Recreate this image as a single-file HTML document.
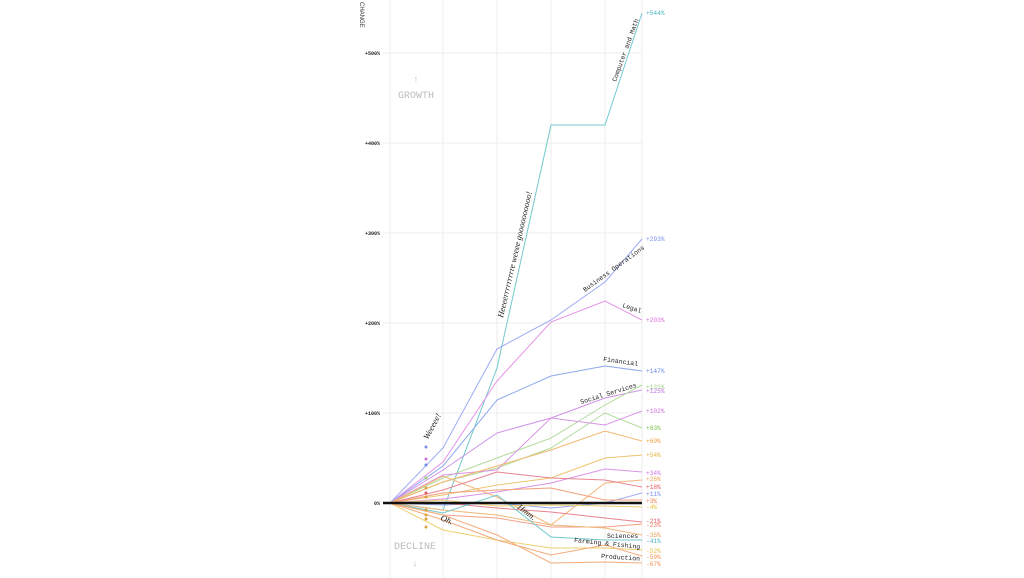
<!DOCTYPE html>
<html><head><meta charset="utf-8"><style>
html,body{margin:0;padding:0;background:#fff;width:1024px;height:578px;overflow:hidden}
svg{display:block}
text{font-family:"Liberation Mono",monospace}
</style></head><body>
<svg width="1024" height="578" viewBox="0 0 1024 578">
<g stroke="#eee" stroke-width="1">
<line x1="390" y1="0" x2="390" y2="578"/><line x1="443" y1="0" x2="443" y2="578"/><line x1="497" y1="0" x2="497" y2="578"/><line x1="551" y1="0" x2="551" y2="578"/><line x1="605" y1="0" x2="605" y2="578"/><line x1="642" y1="0" x2="642" y2="578"/>
<line x1="383" y1="53" x2="642" y2="53"/><line x1="383" y1="143" x2="642" y2="143"/><line x1="383" y1="233" x2="642" y2="233"/><line x1="383" y1="323" x2="642" y2="323"/><line x1="383" y1="413" x2="642" y2="413"/>
</g>
<text x="360" y="2" font-size="6" transform="rotate(90 360 2)" fill="#333" style="font-family:'Liberation Sans'">CHANGE</text>
<g font-size="5" fill="#222" text-anchor="end" font-weight="bold">
<text x="380" y="55">+500%</text><text x="380" y="145">+400%</text><text x="380" y="235">+300%</text><text x="380" y="325">+200%</text><text x="380" y="415">+100%</text><text x="380" y="505">0%</text>
</g>
<text x="416" y="98" font-size="10" fill="#bbb" text-anchor="middle">GROWTH</text>
<text x="416" y="82" font-size="9" fill="#bbb" text-anchor="middle">↑</text>
<text x="415" y="549" font-size="10" fill="#bbb" text-anchor="middle">DECLINE</text>
<text x="415" y="566" font-size="9" fill="#bbb" text-anchor="middle">↓</text>
<g fill="none" stroke-width="1" opacity="0.75">
<polyline stroke="#45b5bd" points="390,503 443,510 497,368 551,125 605,125 642,13"/>
<polyline stroke="#7b8ef0" points="390,503 443,448 497,349 551,320 605,282 642,239"/>
<polyline stroke="#dd6ee0" points="390,503 443,462 497,381 551,322 605,301 642,320"/>
<polyline stroke="#6a8be8" points="390,503 443,466 497,400 551,376 605,366 642,371"/>
<polyline stroke="#c070e0" points="390,503 443,470 497,433 551,418 605,398 642,390"/>
<polyline stroke="#9ad07a" points="390,503 443,478 497,458 551,438 605,405 642,385"/>
<polyline stroke="#9ad07a" points="390,503 443,482 497,468 551,448 605,413 642,428"/>
<polyline stroke="#d070e0" points="390,503 443,475 497,470 551,418 605,425 642,411"/>
<polyline stroke="#f0a040" points="390,503 443,482 497,466 551,450 605,431 642,441"/>
<polyline stroke="#e8b040" points="390,503 443,495 497,485 551,478 605,458 642,455"/>
<polyline stroke="#d070e0" points="390,503 443,499 497,492 551,483 605,469 642,472"/>
<polyline stroke="#f0a050" points="390,503 443,476 497,497 551,525 605,483 642,480"/>
<polyline stroke="#e05a6a" points="390,503 443,490 497,472 551,478 605,480 642,487"/>
<polyline stroke="#7b8ef0" points="390,503 443,505 497,503 551,508 605,503 642,493"/>
<polyline stroke="#f08050" points="390,503 443,493 497,490 551,488 605,500 642,500"/>
<polyline stroke="#e8c040" points="390,503 443,500 497,506 551,505 605,506 642,507"/>
<polyline stroke="#e05a6a" points="390,503 443,503 497,508 551,512 605,518 642,522"/>
<polyline stroke="#f08060" points="390,503 443,515 497,518 551,527 605,527 642,524"/>
<polyline stroke="#e8a050" points="390,503 443,510 497,515 551,525 605,528 642,535"/>
<polyline stroke="#45b5bd" points="390,503 443,513 497,495 551,537 605,540 642,540"/>
<polyline stroke="#e8c040" points="390,503 443,530 497,540 551,548 605,548 642,550"/>
<polyline stroke="#f09050" points="390,503 443,520 497,540 551,555 605,545 642,556"/>
<polyline stroke="#f09050" points="390,503 443,515 497,535 551,563 605,562 642,563"/>
</g>
<line x1="383" y1="503" x2="642" y2="503" stroke="#111" stroke-width="2.5"/>
<g fill="#e0a040"><circle cx="426" cy="447" r="1.5" fill="#7b8ef0"/><circle cx="426" cy="459" r="1.5" fill="#d070e0"/><circle cx="426" cy="465" r="1.5" fill="#6a8be8"/><circle cx="426" cy="478" r="1.5" fill="#9ad07a"/><circle cx="426" cy="488" r="1.5"/><circle cx="426" cy="493" r="1.5" fill="#e05a6a"/><circle cx="426" cy="497" r="1.5"/><circle cx="426" cy="510" r="1.5"/><circle cx="426" cy="515" r="1.5"/><circle cx="426" cy="519" r="1.5"/><circle cx="426" cy="527" r="1.5"/></g>
<g font-size="6.2">
<text x="646" y="15" fill="#45b5bd">+544%</text><text x="646" y="241" fill="#7b8ef0">+293%</text><text x="646" y="322" fill="#dd6ee0">+203%</text><text x="646" y="373" fill="#6a8be8">+147%</text><text x="646" y="389" fill="#9ad07a">+131%</text><text x="646" y="393" fill="#c070e0">+125%</text><text x="646" y="413" fill="#d070e0">+102%</text><text x="646" y="430" fill="#7cc050">+83%</text><text x="646" y="443" fill="#f0a040">+69%</text><text x="646" y="457" fill="#e8b040">+54%</text><text x="646" y="475" fill="#d070e0">+34%</text><text x="646" y="481" fill="#f0a050">+26%</text><text x="646" y="489" fill="#e05a6a">+18%</text><text x="646" y="496" fill="#7b8ef0">+11%</text><text x="646" y="503" fill="#f08050">+3%</text><text x="646" y="509" fill="#e8c040">-4%</text><text x="646" y="523" fill="#e05a6a">-21%</text><text x="646" y="527" fill="#f08060">-23%</text><text x="646" y="537" fill="#e8a050">-35%</text><text x="646" y="543" fill="#45b5bd">-41%</text><text x="646" y="553" fill="#e8c040">-52%</text><text x="646" y="559" fill="#f09050">-59%</text><text x="646" y="566" fill="#f09050">-67%</text>
</g>
<g font-size="6.5" fill="#222">
<text x="0" y="0" transform="translate(616,82) rotate(-70)">Computer and Math</text>
<text x="0" y="0" transform="translate(585,292) rotate(-36)">Business Operations</text>
<text x="0" y="0" transform="translate(622,307) rotate(18)">Legal</text>
<text x="0" y="0" transform="translate(603,361) rotate(8)">Financial</text>
<text x="0" y="0" transform="translate(581,404) rotate(-17)">Social Services</text>
<text x="607" y="538">Sciences</text>
<text x="0" y="0" transform="translate(574,542) rotate(6)">Farming &amp; Fishing</text>
<text x="0" y="0" transform="translate(601,558) rotate(4)">Production</text>
</g>
<g font-style="italic" font-size="8.5" fill="#222">
<text x="0" y="0" transform="translate(428,440) rotate(-62)" style="font-family:'Liberation Serif'">Weeeee!</text>
<text x="0" y="0" transform="translate(503,318) rotate(-77)" style="font-family:'Liberation Serif'">Heeeerrrrrrrrre weeee goooooooooo!</text>
<text x="0" y="0" transform="translate(440,520) rotate(22)" style="font-family:'Liberation Serif'">Oh.</text>
<text x="0" y="0" transform="translate(517,508) rotate(38)" style="font-family:'Liberation Serif'">Hmm.</text>
</g>
</svg>
</body></html>
